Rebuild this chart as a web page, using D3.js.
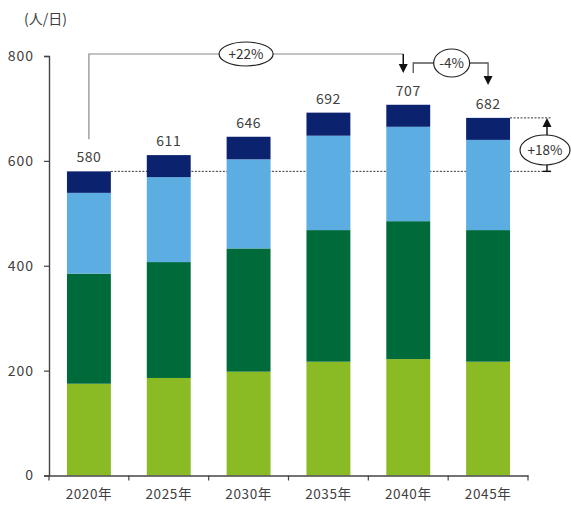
<!DOCTYPE html>
<html>
<head>
<meta charset="utf-8">
<script src="https://cdn.jsdelivr.net/npm/d3@7"></script>
<style>
  html, body { margin: 0; padding: 0; background: #fff; }
  svg { display: block; }
  text { font-family: "Noto Sans CJK JP", "Noto Sans", sans-serif; }
</style>
</head>
<body>
<svg id="chart" width="571" height="508"></svg>
<script>
// Daily users (人/日) by year, stacked in four segments
const years = ["2020年", "2025年", "2030年", "2035年", "2040年", "2045年"];
const segLightGreen = [175, 186, 198, 217, 222, 217];
const segDarkGreen  = [210, 221, 235, 251, 263, 251];
const segLightBlue  = [154, 162, 170, 180, 180, 172];
const segNavy       = [41, 42, 43, 44, 42, 42];
const yTicks = [0, 200, 400, 600, 800];
const unitLabel = "(人/日)";

// Change annotations
const growthFirst = { from: 0, to: 4, text: "+22%" };
const growthLast  = { from: 4, to: 5, text: "-4%" };
const growthRight = { base: 0, top: 5, text: "+18%" };

const seriesKeys = ["lg", "dg", "lb", "nv"];
const colors = { lg: "#8bbb24", dg: "#006b3a", lb: "#5cade2", nv: "#0b236e" };

const rows = years.map((y, i) => ({
  year: y, lg: segLightGreen[i], dg: segDarkGreen[i], lb: segLightBlue[i], nv: segNavy[i]
}));
const totals = rows.map(r => seriesKeys.reduce((s, k) => s + r[k], 0));

const svg = d3.select("#chart");

const x = d3.scaleBand().domain(years).range([49, 528]).paddingInner(0.45).paddingOuter(0.225);
const y = d3.scaleLinear().domain([0, 800]).range([475.5, 56]);
const cx = i => x(years[i]) + x.bandwidth() / 2;

// Dotted reference lines (behind bars)
const dotEnd = 552;
svg.append("line")
  .attr("x1", x(years[growthRight.base]) + x.bandwidth()).attr("x2", dotEnd)
  .attr("y1", y(totals[growthRight.base])).attr("y2", y(totals[growthRight.base]))
  .attr("stroke", "#333").attr("stroke-width", 1).attr("stroke-dasharray", "2,1.5");
svg.append("line")
  .attr("x1", x(years[growthRight.top]) + x.bandwidth()).attr("x2", dotEnd)
  .attr("y1", y(totals[growthRight.top])).attr("y2", y(totals[growthRight.top]))
  .attr("stroke", "#333").attr("stroke-width", 1).attr("stroke-dasharray", "2,1.5");

// Stacked bars
const stacked = d3.stack().keys(seriesKeys)(rows);
svg.append("g").selectAll("g").data(stacked).join("g")
  .attr("fill", d => colors[d.key])
  .selectAll("rect").data(d => d).join("rect")
  .attr("x", d => x(d.data.year))
  .attr("width", x.bandwidth())
  .attr("y", d => y(d[1]))
  .attr("height", d => y(d[0]) - y(d[1]));

// Total labels
svg.append("g").selectAll("text").data(totals).join("text")
  .attr("x", (d, i) => cx(i))
  .attr("y", d => y(d) - 9)
  .attr("text-anchor", "middle")
  .attr("font-size", 14).attr("fill", "#404040").attr("letter-spacing", 0.5)
  .text(d => d);

// Y axis
const yAxis = svg.append("g").attr("transform", "translate(49,0)")
  .call(d3.axisLeft(y).tickValues(yTicks).tickSize(5).tickPadding(10));
yAxis.select(".domain").attr("stroke", "#444").attr("stroke-width", 1.4);
yAxis.selectAll(".tick line").attr("stroke", "#444").attr("stroke-width", 1.2);
yAxis.selectAll("text").attr("font-size", 14).attr("fill", "#404040").attr("letter-spacing", 1)
  .attr("font-family", "\"Noto Sans CJK JP\", sans-serif");

// X axis: labels centred on bars, ticks at category boundaries
const xAxis = svg.append("g").attr("transform", `translate(0,${y(0)})`)
  .call(d3.axisBottom(x).tickSize(0).tickPadding(14));
xAxis.select(".domain").attr("stroke", "#444").attr("stroke-width", 1.4);
xAxis.selectAll("text").attr("font-size", 13.5).attr("fill", "#404040").attr("letter-spacing", 0.6)
  .attr("font-family", "\"Noto Sans CJK JP\", sans-serif");
const bounds = d3.range(years.length + 1).map(i => x.range()[0] + i * x.step());
xAxis.selectAll("line.bound").data(bounds).join("line").attr("class", "bound")
  .attr("x1", d => d).attr("x2", d => d).attr("y1", 0).attr("y2", 5)
  .attr("stroke", "#444").attr("stroke-width", 1.2);

// Unit label
svg.append("text").attr("x", 24).attr("y", 24)
  .attr("font-size", 14).attr("fill", "#404040").text(unitLabel);

// Helpers for annotation shapes
function arrowDown(xp, yTip) {
  svg.append("path")
    .attr("d", `M${xp - 4.5},${yTip - 9}L${xp + 4.5},${yTip - 9}L${xp},${yTip}Z`)
    .attr("fill", "#111");
}
function arrowUp(xp, yTip) {
  svg.append("path")
    .attr("d", `M${xp - 4.5},${yTip + 9}L${xp + 4.5},${yTip + 9}L${xp},${yTip}Z`)
    .attr("fill", "#111");
}
function bubble(xc, yc, rx, ry, label) {
  svg.append("ellipse").attr("cx", xc).attr("cy", yc).attr("rx", rx).attr("ry", ry)
    .attr("fill", "#fff").attr("stroke", "#222").attr("stroke-width", 1.2);
  svg.append("text").attr("x", xc).attr("y", yc + 5)
    .attr("text-anchor", "middle").attr("font-size", 13.5).attr("fill", "#333").text(label);
}

// +22% bracket: 2020 → 2040
{
  const x0 = cx(growthFirst.from), x1 = cx(growthFirst.to) - 5;
  const yTop = y(800) - 2;
  const yStart = y(totals[growthFirst.from]) - 32;
  svg.append("path")
    .attr("d", `M${x0},${yStart}V${yTop}H${x1}`)
    .attr("fill", "none").attr("stroke", "#888").attr("stroke-width", 1.2);
  svg.append("line").attr("x1", x1).attr("x2", x1).attr("y1", yTop).attr("y2", yTop + 10)
    .attr("stroke", "#111").attr("stroke-width", 1.5);
  arrowDown(x1, yTop + 19);
  bubble((x0 + x1) / 2 + 0, yTop, 27, 12, growthFirst.text);
}

// -4% bracket: 2040 → 2045
{
  const x0 = cx(growthLast.from) + 5, x1 = cx(growthLast.to);
  const yMid = 63;
  svg.append("path")
    .attr("d", `M${x0},${yMid + 10}V${yMid}H${x1}V${yMid + 14}`)
    .attr("fill", "none").attr("stroke", "#555").attr("stroke-width", 1.3);
  arrowDown(x1, y(totals[growthLast.to]) - 33);
  bubble((x0 + x1) / 2 + 1, yMid, 18, 14, growthLast.text);
}

// +18% vertical arrow: 2020 level → 2045 level
{
  const xa = 547;
  const yLow = y(totals[growthRight.base]), yHigh = y(totals[growthRight.top]);
  svg.append("line").attr("x1", xa).attr("x2", xa).attr("y1", yLow).attr("y2", yHigh + 6)
    .attr("stroke", "#111").attr("stroke-width", 1.4);
  svg.append("line").attr("x1", xa - 4).attr("x2", xa + 4).attr("y1", yLow).attr("y2", yLow)
    .attr("stroke", "#111").attr("stroke-width", 1.4);
  arrowUp(xa, yHigh);
  bubble(545, 150, 25, 15, growthRight.text);
}
</script>
</body>
</html>
